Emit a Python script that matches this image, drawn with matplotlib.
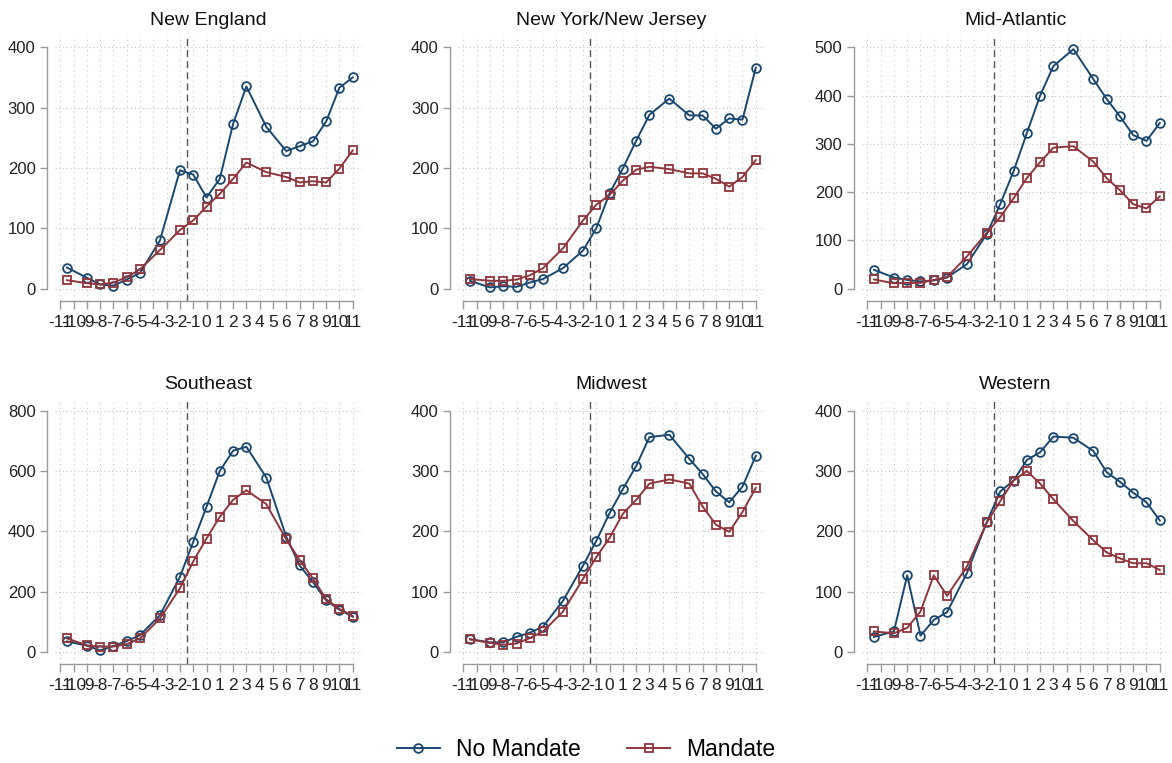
import matplotlib
matplotlib.use("Agg")
import matplotlib.pyplot as plt
from matplotlib.lines import Line2D

plt.rcParams["font.family"] = ["Liberation Sans", "DejaVu Sans"]
plt.rcParams["axes.unicode_minus"] = False

# Event time (quarters relative to adoption); a few periods are pooled
event_time = [-10.5, -9, -8, -7, -6, -5, -3.5, -2, -1, 0, 1, 2, 3, 4.5, 6, 7, 8, 9, 10, 11]
tick_values = list(range(-11, 12))

regions = ["New England", "New York/New Jersey", "Mid-Atlantic",
           "Southeast", "Midwest", "Western"]

no_mandate_new_england = [35, 18, 7, 5, 15, 26, 80, 196, 189, 151, 182, 273, 335, 268, 228, 236, 244, 277, 333, 350]
mandate_new_england = [14, 9, 7, 10, 19, 32, 64, 97, 113, 136, 157, 182, 209, 193, 185, 176, 178, 176, 199, 229]

no_mandate_ny_nj = [13, 2, 4, 3, 10, 16, 34, 63, 100, 158, 199, 245, 288, 315, 287, 287, 265, 282, 280, 366]
mandate_ny_nj = [16, 13, 13, 15, 22, 34, 67, 113, 139, 155, 179, 197, 202, 198, 191, 191, 182, 169, 185, 213]

no_mandate_mid_atlantic = [39, 23, 18, 15, 17, 23, 51, 114, 175, 243, 322, 400, 461, 496, 434, 393, 357, 318, 306, 343]
mandate_mid_atlantic = [19, 11, 12, 12, 18, 24, 67, 116, 148, 187, 229, 262, 292, 295, 263, 229, 204, 175, 166, 191]

no_mandate_southeast = [35, 21, 5, 20, 36, 56, 122, 249, 365, 481, 600, 667, 680, 578, 382, 287, 232, 171, 140, 117]
mandate_southeast = [45, 22, 18, 18, 26, 45, 111, 211, 300, 376, 448, 504, 536, 490, 373, 305, 244, 175, 143, 119]

no_mandate_midwest = [21, 16, 16, 25, 32, 42, 85, 143, 184, 230, 270, 308, 356, 360, 320, 295, 266, 248, 274, 325]
mandate_midwest = [21, 15, 12, 14, 23, 34, 67, 121, 157, 189, 229, 252, 279, 286, 279, 241, 211, 199, 232, 272]

no_mandate_western = [25, 34, 127, 27, 53, 66, 131, 216, 266, 284, 318, 331, 357, 355, 333, 298, 282, 264, 248, 218]
mandate_western = [34, 31, 40, 67, 127, 93, 142, 215, 250, 284, 300, 279, 253, 217, 185, 165, 155, 147, 147, 136]

no_mandate = [no_mandate_new_england, no_mandate_ny_nj, no_mandate_mid_atlantic,
              no_mandate_southeast, no_mandate_midwest, no_mandate_western]
mandate = [mandate_new_england, mandate_ny_nj, mandate_mid_atlantic,
           mandate_southeast, mandate_midwest, mandate_western]

y_max = [400, 400, 500, 800, 400, 400]
y_step = [100, 100, 100, 200, 100, 100]

NAVY = "#1a476f"
MAROON = "#90353b"
AXIS_GREY = "#9a9a9a"
GRID_GREY = "#c4c4c4"

fig = plt.figure(figsize=(11.72, 7.63), dpi=100)

col_left = [0.0469, 0.3908, 0.7355]
row_bottom = [0.6059, 0.1297]
width, height = 0.262, 0.348

for i, name in enumerate(regions):
    r, c = divmod(i, 3)
    ax = fig.add_axes([col_left[c], row_bottom[r], width, height])
    top = y_max[i]
    ax.set_xlim(-11.4, 11.7)
    ax.set_ylim(-0.05 * top, 1.05 * top)

    yt = list(range(0, top + 1, y_step[i]))
    ax.set_yticks(yt)
    ax.set_xticks(tick_values)
    ax.set_xticklabels([str(v) for v in tick_values])

    # dotted grid
    for v in tick_values:
        ax.axvline(v, color=GRID_GREY, lw=0.8, ls=(0, (1, 3.6)), zorder=0)
    for v in yt:
        ax.axhline(v, color=GRID_GREY, lw=0.8, ls=(0, (1, 2.4)), zorder=0)

    ax.axvline(-1.5, color="#555555", lw=1.0, ls=(0, (5, 3)), zorder=1)

    ax.plot(event_time, no_mandate[i], color=NAVY, lw=1.4, marker="o",
            ms=6.3, mfc="none", mec=NAVY, mew=1.3, zorder=3)
    ax.plot(event_time, mandate[i], color=MAROON, lw=1.4, marker="s",
            ms=6.3, mfc="none", mec=MAROON, mew=1.3, zorder=4)

    for s in ["top", "right"]:
        ax.spines[s].set_visible(False)
    ax.spines["left"].set_position(("outward", 6))
    ax.spines["left"].set_bounds(0, top)
    ax.spines["bottom"].set_bounds(-11, 11)
    for s in ["left", "bottom"]:
        ax.spines[s].set_color(AXIS_GREY)
        ax.spines[s].set_linewidth(1.0)

    ax.tick_params(axis="y", length=5, width=1.0, color=AXIS_GREY,
                   labelsize=12, pad=3, labelcolor="#222222")
    ax.tick_params(axis="x", length=6, width=1.0, color=AXIS_GREY,
                   labelsize=12.5, pad=4, labelcolor="#222222")

    ax.set_title(name, fontsize=14, pad=7, color="#111111")

handles = [
    Line2D([], [], color=NAVY, lw=1.4, marker="o", ms=6.3, mfc="none", mec=NAVY, mew=1.3),
    Line2D([], [], color=MAROON, lw=1.4, marker="s", ms=6.3, mfc="none", mec=MAROON, mew=1.3),
]
fig.legend(handles, ["No Mandate", "Mandate"], loc="center",
           bbox_to_anchor=(0.5, 1 - 750 / 763), ncol=2, frameon=False,
           fontsize=16.5, handlelength=1.9, handletextpad=0.7, columnspacing=2.0)

fig.savefig("out.png", dpi=100, facecolor="white")
